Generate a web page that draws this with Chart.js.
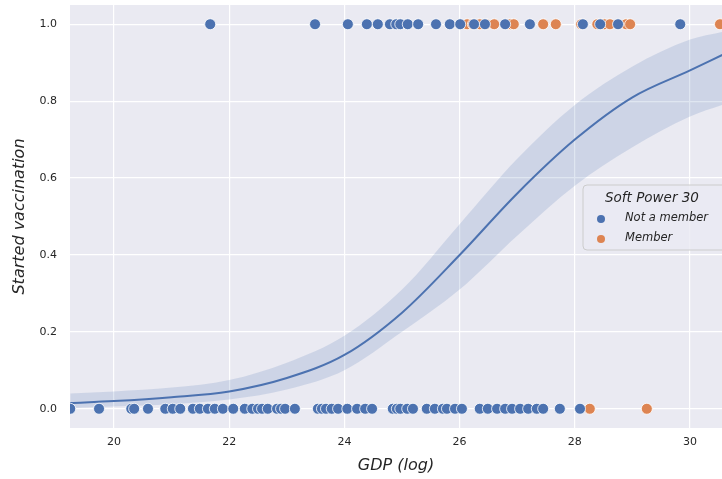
<!DOCTYPE html>
<html>
<head>
<meta charset="utf-8">
<script src="https://cdn.jsdelivr.net/npm/chart.js@4/dist/chart.umd.min.js"></script>
<style>
html, body { margin: 0; padding: 0; background: #fff; }
</style>
</head>
<body>
<canvas id="canvas" width="722" height="479"></canvas>
<script>
// GDP (log) per country, split by vaccination start (1 / 0) and Soft Power 30 membership
const notMemberStarted = [21.67, 23.49, 24.06, 24.39, 24.58, 24.79, 24.90, 24.97, 25.10, 25.28,
  25.59, 25.83, 26.01, 26.25, 26.44, 26.79, 27.22, 28.14, 28.44, 28.75, 29.83]
const memberStarted = [26.13, 26.23, 26.35, 26.46, 26.60, 26.88, 26.94, 27.45, 27.67, 28.11,
  28.39, 28.51, 28.61, 28.89, 28.96, 30.52]
const notMemberNotStarted = [19.24, 19.74, 20.30, 20.35, 20.59, 20.89, 21.02, 21.15, 21.37, 21.49,
  21.63, 21.75, 21.89, 22.07, 22.27, 22.40, 22.50, 22.57, 22.67, 22.83, 22.90, 22.97, 23.14,
  23.54, 23.61, 23.68, 23.78, 23.89, 24.05, 24.22, 24.36, 24.48, 24.84, 24.91, 24.97, 25.09,
  25.19, 25.43, 25.57, 25.71, 25.78, 25.92, 26.04, 26.35, 26.49, 26.65, 26.79, 26.91, 27.05,
  27.19, 27.34, 27.45, 27.74, 28.09]
const memberNotStarted = [28.26, 29.25]

// logistic fit
const fitX    = [19.24, 20,    21,    22,    23,   24,   25,   26,   27,   28,   29,   30,   30.56]
const fitY    = [0.015, 0.02,  0.03,  0.045, 0.08, 0.14, 0.25, 0.40, 0.56, 0.70, 0.81, 0.88, 0.92]
const fitLow  = [0.002, 0.006, 0.012, 0.024, 0.05, 0.10, 0.20, 0.31, 0.45, 0.58, 0.68, 0.76, 0.79]
const fitHigh = [0.04,  0.045, 0.055, 0.075, 0.12, 0.19, 0.31, 0.48, 0.65, 0.79, 0.89, 0.96, 0.98]

const xTicks = [20, 22, 24, 26, 28, 30]
const yTicks = [0.0, 0.2, 0.4, 0.6, 0.8, 1.0]

const BLUE = '#4C72B0'
const ORANGE = '#DD8452'
const TEXT = '#262626'

function pts(xs, y) { return xs.map(x => ({x: x, y: y})) }
function curve(ys) { return fitX.map((x, i) => ({x: x, y: ys[i]})) }

const legendBox = {
  id: 'legendBox',
  afterDatasetsDraw(chart) {
    const ctx = chart.ctx
    ctx.save()
    ctx.beginPath()
    ctx.roundRect(583, 185, 160, 65, 4)
    ctx.fillStyle = 'rgba(234,234,242,0.8)'
    ctx.fill()
    ctx.strokeStyle = '#cccccc'
    ctx.lineWidth = 1
    ctx.stroke()
    ctx.fillStyle = TEXT
    ctx.textBaseline = 'middle'
    ctx.font = 'italic 13.5px "DejaVu Sans"'
    ctx.fillText('Soft Power 30', 605, 198)
    ctx.font = 'italic 11.5px "DejaVu Sans"'
    ctx.fillText('Not a member', 625, 218)
    ctx.fillText('Member', 625, 238)
    ctx.fillStyle = BLUE
    ctx.beginPath(); ctx.arc(601, 219, 4, 0, Math.PI * 2); ctx.fill()
    ctx.fillStyle = ORANGE
    ctx.beginPath(); ctx.arc(601, 239, 4, 0, Math.PI * 2); ctx.fill()
    ctx.restore()
  }
}

const bgPlugin = {
  id: 'bg',
  beforeDraw(chart) {
    const a = chart.chartArea
    chart.ctx.save()
    chart.ctx.fillStyle = '#EAEAF2'
    chart.ctx.fillRect(a.left, a.top, a.right - a.left, a.bottom - a.top)
    chart.ctx.restore()
  }
}

const pointStyle = {
  type: 'scatter', pointRadius: 5.5, pointHoverRadius: 5.5,
  pointBorderColor: '#ffffff', pointBorderWidth: 0.8, order: 0
}

var ctx = document.getElementById('canvas').getContext('2d')
var chart = new Chart(ctx, {
  type: 'scatter',
  data: {
    datasets: [
      Object.assign({label: 'Not a member', data: pts(notMemberStarted, 1), backgroundColor: BLUE}, pointStyle),
      Object.assign({label: 'Member', data: pts(memberStarted, 1), backgroundColor: ORANGE}, pointStyle),
      Object.assign({label: 'Not a member 0', data: pts(notMemberNotStarted, 0), backgroundColor: BLUE}, pointStyle),
      Object.assign({label: 'Member 0', data: pts(memberNotStarted, 0), backgroundColor: ORANGE}, pointStyle),
      {
        type: 'line', label: 'fit', data: curve(fitY), borderColor: BLUE, borderWidth: 2,
        pointRadius: 0, cubicInterpolationMode: 'monotone', fill: false, order: 1
      },
      {
        type: 'line', label: 'ci high', data: curve(fitHigh), borderWidth: 0, borderColor: 'rgba(0,0,0,0)',
        pointRadius: 0, cubicInterpolationMode: 'monotone', fill: '+1',
        backgroundColor: 'rgba(76,114,176,0.18)', order: 2
      },
      {
        type: 'line', label: 'ci low', data: curve(fitLow), borderWidth: 0, borderColor: 'rgba(0,0,0,0)',
        pointRadius: 0, cubicInterpolationMode: 'monotone', fill: false, order: 2
      }
    ]
  },
  options: {
    responsive: false,
    animation: false,
    devicePixelRatio: 1,
    layout: { autoPadding: false, padding: { top: 5, right: 0, left: 0, bottom: 0 } },
    plugins: { legend: { display: false }, tooltip: { enabled: false } },
    scales: {
      x: {
        type: 'linear', min: 19.236, max: 30.555,
        afterFit: function(s) { s.height = 51; s.paddingLeft = 0; s.paddingRight = 0 },
        afterBuildTicks: function(s) { s.ticks = xTicks.map(v => ({value: v})) },
        grid: { color: '#ffffff', lineWidth: 1.2, drawTicks: false },
        border: { display: false },
        ticks: { padding: 8, color: TEXT, font: { family: 'DejaVu Sans', size: 11 },
          callback: v => String(v) },
        title: { display: true, text: 'GDP (log)', color: TEXT, padding: { top: 0, bottom: 4 },
          font: { family: 'DejaVu Sans', size: 16, style: 'italic' } }
      },
      y: {
        type: 'linear', min: -0.05, max: 1.05,
        afterFit: function(s) { s.width = 70; s.paddingTop = 0; s.paddingBottom = 0 },
        afterBuildTicks: function(s) { s.ticks = yTicks.map(v => ({value: v})) },
        grid: { color: '#ffffff', lineWidth: 1.2, drawTicks: false },
        border: { display: false },
        ticks: { padding: 13, color: TEXT, font: { family: 'DejaVu Sans', size: 11 },
          callback: v => v.toFixed(1) },
        title: { display: true, text: 'Started vaccination', color: TEXT, padding: { top: 10, bottom: 0 },
          font: { family: 'DejaVu Sans', size: 16, style: 'italic' } }
      }
    }
  },
  plugins: [bgPlugin, legendBox]
})
</script>
</body>
</html>
